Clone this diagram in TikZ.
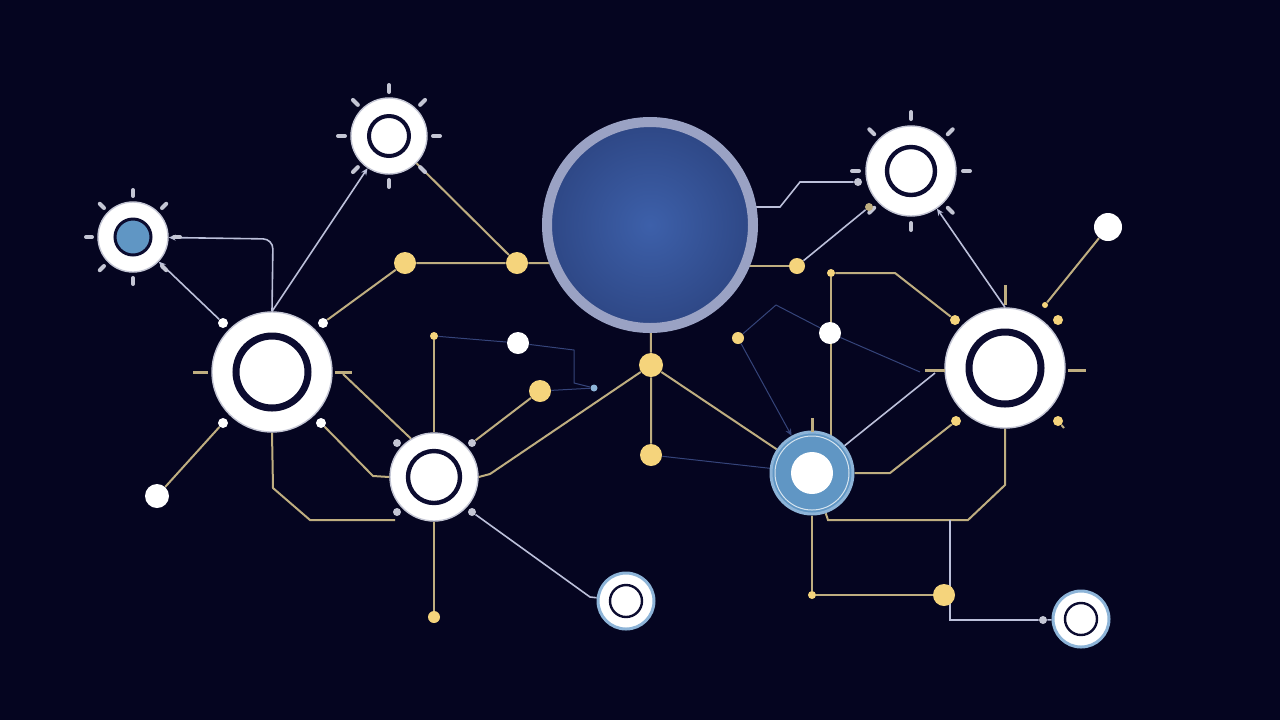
\documentclass[tikz,border=0pt]{standalone}
\usepackage{xcolor}
\definecolor{color1}{HTML}{050520}
\definecolor{color2}{HTML}{0C0C30}
\definecolor{color3}{HTML}{C4C6D4}
\definecolor{color4}{HTML}{BFAE80}
\definecolor{color5}{HTML}{F5D47C}
\definecolor{color6}{HTML}{BCC0DA}
\definecolor{color7}{HTML}{35447A}
\definecolor{color8}{HTML}{9AA2C4}
\definecolor{color9}{HTML}{3D60AA}
\definecolor{color10}{HTML}{2E4785}
\definecolor{color11}{HTML}{6096C4}
\definecolor{color12}{HTML}{8DB4D8}
\usepackage{tikz}
\usetikzlibrary{arrows.meta}
\pgfdeclarelayer{back}
\pgfdeclarelayer{wires}
\pgfsetlayers{back,wires,main}

\begin{document}
\begin{tikzpicture}[x=0.5pt,y=-0.5pt, % one unit = one pixel of the 1280x720 frame
    disc/.style={circle,inner sep=0pt,fill=white,draw=color3,line width=0.7pt,minimum size=#1},
    hole/.style 2 args={circle,inner sep=0pt,draw=color2,minimum size=#1,line width=#2},
    ydot/.style={circle,inner sep=0pt,fill=color5,minimum size=#1},
    wdot/.style={circle,inner sep=0pt,fill=white,minimum size=#1},
    gdot/.style={circle,inner sep=0pt,fill=color3,minimum size=#1},
    gold/.style={draw=color4,line width=1pt},
    grey/.style={draw=color6,line width=0.8pt},
    faint/.style={draw=color7,line width=0.5pt},
    ray/.style={draw=color3,line width=2pt,line cap=round},
    tick/.style={draw=color4,line width=1.5pt},
    tip/.style={-{Stealth[length=3.5pt,width=3pt]}}]
    \begin{pgfonlayer}{back}
        \fill[color1] (0,0) rectangle (1280,720);
    \end{pgfonlayer}
    % Define the big core and the ring nodes
    \node[circle,inner sep=0pt,minimum size=103pt,draw=color8,line width=5pt,inner color=color9,outer color=color10] (core) at (650,225) {};
    \node[disc=60pt] (hubL) at (272,372) {};
    \node[hole={36pt}{3.5pt}] at (hubL) {};
    \node[disc=60pt] (hubR) at (1005,368) {};
    \node[hole={36pt}{3.5pt}] at (hubR) {};
    \node[disc=44pt] (ringM) at (434,477) {};
    \node[hole={26pt}{2.2pt}] at (ringM) {};
    \node[circle,inner sep=0pt,minimum size=41pt,fill=color11,draw=color12,line width=1.5pt] (ringB) at (812,473) {};
    \draw[white!75!color11,line width=0.5pt] (ringB.center) circle (37);
    \node[wdot=21pt] at (ringB) {};
    \node[disc=38pt] (sunA) at (389,136) {};
    \node[hole={20pt}{2pt}] at (sunA) {};
    \node[disc=45pt] (sunB) at (911,171) {};
    \node[hole={24pt}{2.2pt}] at (sunB) {};
    \node[disc=35pt] (sunC) at (133,237) {};
    \node[circle,inner sep=0pt,minimum size=18pt,fill=color11,draw=color2,line width=1.5pt] at (sunC) {};
    \node[disc=28pt,draw=color12,line width=1.5pt] (tipA) at (626,601) {};
    \node[hole={16pt}{1.2pt}] at (tipA) {};
    \node[disc=28pt,draw=color12,line width=1.5pt] (tipB) at (1081,619) {};
    \node[hole={16pt}{1.2pt}] at (tipB) {};
    % rays round the three small suns
    \foreach \a in {0,45,...,315} {
        \draw[ray] (sunA.center) ++(\a:44) -- ++(\a:7);
        \draw[ray] (sunB.center) ++(\a:52) -- ++(\a:7);
        \draw[ray] (sunC.center) ++(\a:41) -- ++(\a:6);
    }
    % short ticks on the hubs
    \draw[tick] (hubL.center) ++(-79,0) -- ++(15,0);
    \draw[tick] (hubL.center) ++(63,0) -- ++(17,0);
    \draw[tick] (hubR.center) ++(-80,2) -- ++(20,0);
    \draw[tick] (hubR.center) ++(63,2) -- ++(18,0);
    \draw[tick] (hubR.center) ++(0,-83) -- ++(0,20);
    \draw[tick] (ringB.center) ++(0,-55) -- ++(0,14);
    % dots
    \node[wdot=11pt] (wdA) at (518,343) {};
    \node[wdot=11pt] (wdB) at (830,333) {};
    \node[wdot=12pt] (wdC) at (157,496) {};
    \node[wdot=14pt] (wdD) at (1108,227) {};
    \node[ydot=11pt] (ydA) at (405,263) {};
    \node[ydot=11pt] (ydB) at (517,263) {};
    \node[ydot=11pt] (ydC) at (540,391) {};
    \node[ydot=12pt] (ydD) at (651,365) {};
    \node[ydot=11pt] (ydE) at (651,455) {};
    \node[ydot=8pt] (ydF) at (797,266) {};
    \node[ydot=11pt] (ydG) at (944,595) {};
    \node[ydot=4pt] (syA) at (434,336) {};
    \node[ydot=6pt] (syB) at (738,338) {};
    \node[ydot=4pt] (syC) at (831,273) {};
    \node[ydot=4pt] (syD) at (812,595) {};
    \node[ydot=6pt] (syE) at (434,617) {};
    \node[ydot=3pt] (syF) at (1045,305) {};
    \node[ydot=5pt] (hrA) at (955,320) {};
    \node[ydot=5pt] (hrB) at (1058,320) {};
    \node[ydot=5pt] (hrC) at (956,421) {};
    \node[ydot=5pt] (hrD) at (1058,421) {};
    \node[wdot=5pt] (hlA) at (223,323) {};
    \node[wdot=5pt] (hlB) at (323,323) {};
    \node[wdot=5pt] (hlC) at (223,423) {};
    \node[wdot=5pt] (hlD) at (321,423) {};
    \node[gdot=4pt] (mA) at (397,443) {};
    \node[gdot=4pt] (mB) at (472,443) {};
    \node[gdot=4pt] (mC) at (397,512) {};
    \node[gdot=4pt] (mD) at (472,512) {};
    \node[circle,inner sep=0pt,minimum size=3.5pt,fill=color12] (bd) at (594,388) {};
    \node[gdot=4pt] (gA) at (858,182) {};
    \node[gdot=4pt,fill=color4] (gB) at (869,207) {};
    \node[gdot=4pt] (gC) at (1043,620) {};
    \coordinate (jn) at (950,520);
    \coordinate (endB) at (920,372);
    \coordinate (endM) at (395,520);
    \begin{pgfonlayer}{wires}
        % gold traces
        \draw[gold] (hlB) -- (ydA) -- (ydB) -- (core.center |- ydB);
        \draw[gold] (ydB) -- (sunA);
        \draw[gold] (ydF) -- (core.center |- ydF);
        \draw[gold] (hubL.center) ++(71,2) -- (ringM.121);
        \draw[gold] (hlD) -- (373,476) -- (ringM.west);
        \draw[gold] (hubL.south) -- (273,488) -- (310,520) -- (endM);
        \draw[gold] (hlC) -- (wdC);
        \draw[gold] (syA) -- (ringM);
        \draw[gold] (mB) -- (ydC);
        \draw[gold] (ringM.east) -- (490,474) -- (ydD);
        \draw[gold] (core.center) -- (ydD) -- (ydE);
        \draw[gold] (ydD) -- (ringB);
        \draw[gold] (ringM) -- (syE);
        \draw[gold] (syC) -- (895,273) -- (hrA);
        \draw[gold] (syC) -- (syC |- ringB.center);
        \draw[gold] (ringB.east) -- (890,473) -- (hrC);
        \draw[gold] (hubR.south) -- (1005,485) -- (968,520) -- (828,520) -- (ringB);
        \draw[gold] (ringB) -- (syD) -- (ydG);
        \draw[gold] (syF) -- (wdD);
        \draw[gold] (hrD) -- ++(6,7);
        % grey traces
        \draw[grey,tip,rounded corners=5pt] (hubL.north) -- (273,239) -- (sunC);
        \draw[grey,tip] (hlA) -- (sunC);
        \draw[grey,tip] (hubL.north) -- (sunA);
        \draw[grey] (core.center) ++(0,-18) -- (780,207) -- (800,182) -- (gA);
        \draw[grey] (ydF) -- (gB);
        \draw[grey,tip] (hubR.north) -- (sunB);
        \draw[grey] (mD) -- (590,597) -- (tipA);
        \draw[grey] (ringB.40) -- (935,373);
        \draw[grey] (jn) -- (950,620) -- (gC) -- (tipB);
        % faint traces
        \draw[faint] (syA) -- (wdA) -- (574,350) -- (574,383) -- (bd);
        \draw[faint] (ydC) -- (bd);
        \draw[faint] (ydE) -- (ringB);
        \draw[faint] (syB) -- (776,305) -- (wdB) -- (endB);
        \draw[faint,tip] (syB) -- (ringB);
    \end{pgfonlayer}
\end{tikzpicture}
\end{document}
